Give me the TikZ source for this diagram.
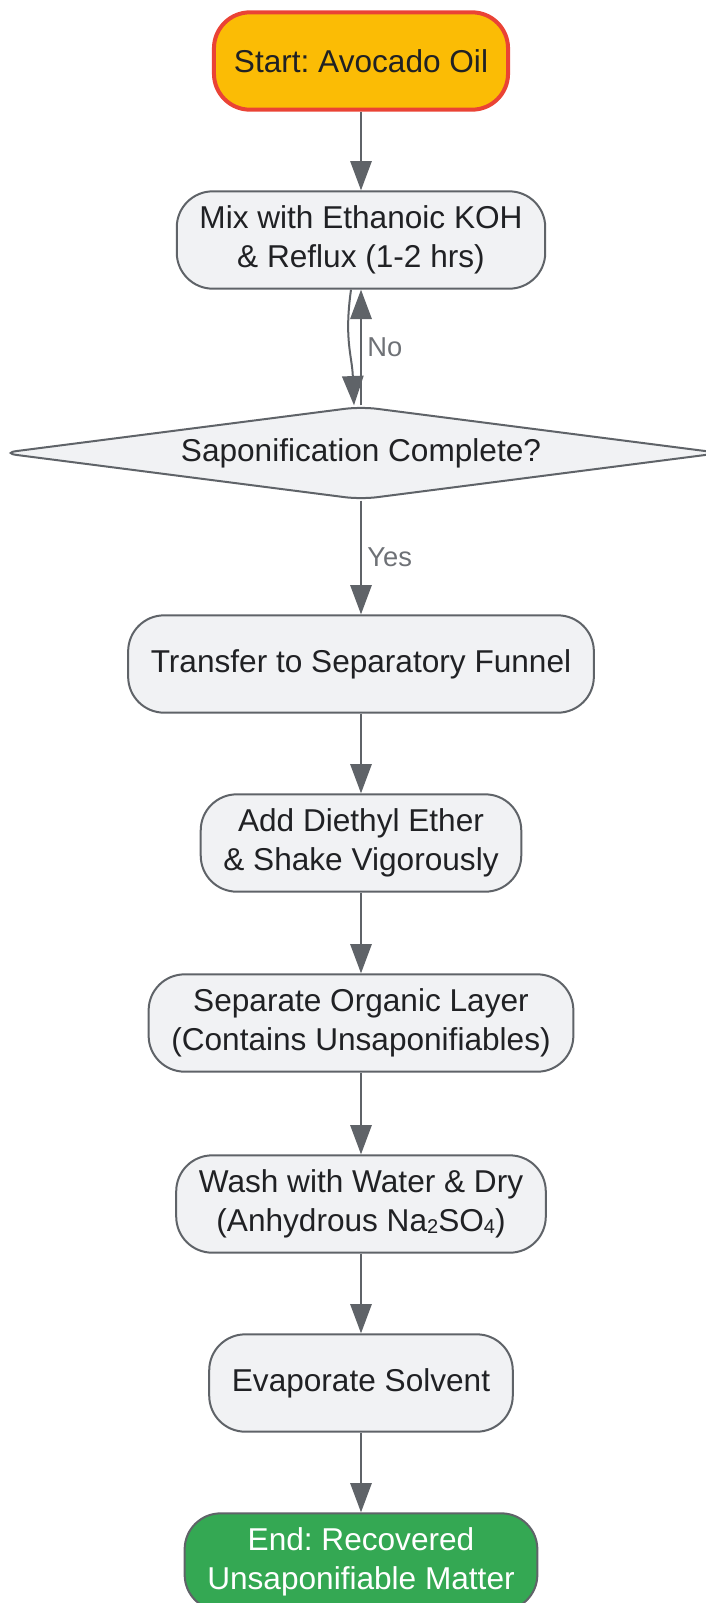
\documentclass[tikz,border=0pt]{standalone}
\usepackage{fontspec}
\setmainfont{Liberation Sans}
\usepackage{tikz}
\usepackage{color}
\usetikzlibrary{arrows.meta,shapes.geometric,calc}
\definecolor{mycolor1}{RGB}{251,188,5}
\definecolor{mycolor2}{RGB}{234,67,53}
\definecolor{mycolor3}{RGB}{241,242,244}
\definecolor{mycolor4}{RGB}{95,99,104}
\definecolor{mycolor5}{RGB}{52,168,83}
\definecolor{mycolor6}{RGB}{32,33,36}
\definecolor{mycolor7}{RGB}{110,113,118}
\newcommand{\lowsub}[1]{{\fontsize{15}{15}\selectfont\raisebox{-1pt}{#1}}}
\frenchspacing

\begin{document}
\begin{tikzpicture}[x=0.75pt, y=-0.75pt,
  stepbox/.style={draw=mycolor4, line width=1.5pt, fill=mycolor3, rounded corners=27pt,
    align=center, minimum height=73pt, inner xsep=17pt, text=mycolor6,
    font=\fontsize{23.7}{29.5}\selectfont},
  startbox/.style={stepbox, draw=mycolor2, fill=mycolor1, line width=3pt, inner xsep=15pt},
  endbox/.style={stepbox, fill=mycolor5, text=white},
  decision/.style={stepbox, shape=diamond, rounded corners=12pt, aspect=7.5, inner sep=0pt,
    minimum width=540pt, minimum height=70pt},
  arrow/.style={-{Triangle[length=22pt,width=16pt]}, line width=1.5pt, draw=mycolor4},
  lbl/.style={text=mycolor7, font=\fontsize{20.5}{24}\selectfont, inner sep=4pt}]
  \useasboundingbox (0,0) rectangle (706,1603);

  \node[startbox] (start) at (361,61) {Start: Avocado Oil};
  \node[stepbox] (mix) at (361,240) {Mix with Ethanoic KOH\\ \& Reflux (1-2 hrs)};
  \node[decision] (check) at (361,453) {Saponification Complete?};
  \node[stepbox] (funnel) at (361,664) {Transfer to Separatory Funnel};
  \node[stepbox] (ether) at (361,843) {Add Diethyl Ether\\ \& Shake Vigorously};
  \node[stepbox] (organic) at (361,1023) {Separate Organic Layer\\ (Contains Unsaponifiables)};
  \node[stepbox] (wash) at (361,1204) {Wash with Water \& Dry\\ (Anhydrous Na\lowsub{2}SO\lowsub{4})};
  \node[stepbox] (evap) at (361,1383) {Evaporate Solvent};
  \node[endbox] (finish) at (361,1562) {End: Recovered\\ Unsaponifiable Matter};

  \draw[arrow] (start) -- (mix);
  \draw[arrow] ($(mix.south)+(-10,0)$) .. controls ($(mix.south)+(-17,50)$) and ($(check.north)+(-9,-50)$) .. ($(check.north)+(-7,0)$); % reflux
  \draw[arrow] (check.north) -- (mix.south) node[midway, right, lbl] {No};
  \draw[arrow] (check.south) -- (funnel) node[midway, right, lbl] {Yes};
  \draw[arrow] (funnel) -- (ether);
  \draw[arrow] (ether) -- (organic);
  \draw[arrow] (organic) -- (wash);
  \draw[arrow] (wash) -- (evap);
  \draw[arrow] (evap) -- (finish);
\end{tikzpicture}
\end{document}
